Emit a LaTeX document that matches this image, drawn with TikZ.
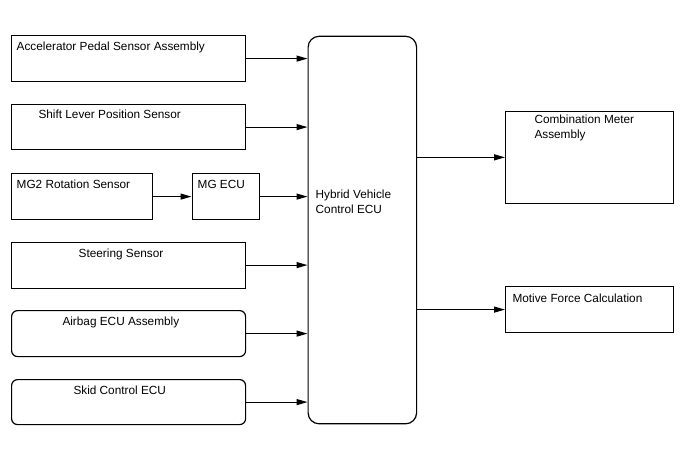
\documentclass[tikz,border=0pt]{standalone}
\usepackage{fontspec}
\setmainfont{Liberation Sans}
\usetikzlibrary{arrows.meta}
\begin{document}
\begin{tikzpicture}[x=1pt,y=-1pt,
  box/.style={draw,line width=1.2pt,rectangle,inner sep=0pt,anchor=north west},
  rbox/.style={box,rounded corners=6pt},
  txt/.style={anchor=base west,inner sep=0pt,font=\fontsize{11.8}{14.6}\selectfont},
  arr/.style={line width=1.2pt,-{Triangle[length=11pt,width=6pt]}}]
\useasboundingbox (0,0) rectangle (688,463);
% boxes
\node[box,minimum width=234pt,minimum height=46pt] (acc) at (11,35) {};
\node[box,minimum width=234pt,minimum height=45pt] (shift) at (11,104) {};
\node[box,minimum width=141pt,minimum height=46pt] (mg2) at (11,173) {};
\node[box,minimum width=67pt,minimum height=46pt] (mgecu) at (191.5,173) {};
\node[box,minimum width=234pt,minimum height=46pt] (steer) at (11,241.5) {};
\node[rbox,minimum width=234pt,minimum height=46pt] (airbag) at (11,310) {};
\node[rbox,minimum width=234pt,minimum height=45pt] (skid) at (11,379) {};
\node[box,rounded corners=11pt,minimum width=108.5pt,minimum height=387.5pt] (hv) at (307.5,35.7) {};
\node[box,minimum width=167.5pt,minimum height=91.5pt] (comb) at (505,111) {};
\node[box,minimum width=167.5pt,minimum height=46pt] (motive) at (505,286) {};
% texts
\node[txt] (tacc) at (16.5,50) {Accelerator Pedal Sensor Assembly};
\node[txt] (tshift) at (38.3,118.3) {Shift Lever Position Sensor};
\node[txt] (tmg2) at (16.5,188.3) {MG2 Rotation Sensor};
\node[txt] (tmgecu) at (197.5,188.3) {MG ECU};
\node[txt] (tsteer) at (78.5,257) {Steering Sensor};
\node[txt] (tairbag) at (62.3,325) {Airbag ECU Assembly};
\node[txt] (tskid) at (73.3,394) {Skid Control ECU};
\node[txt,align=left,anchor=north west] (thv) at (315.5,190) {Hybrid Vehicle\\Control ECU};
\node[txt,align=left,anchor=north west] (tcomb) at (534.3,114.7) {Combination Meter\\Assembly};
\node[txt] (tmotive) at (512.3,302) {Motive Force Calculation};
% connectors
\draw[arr] (acc.east) -- (acc.east -| hv.west);
\draw[arr] (shift.east) -- (shift.east -| hv.west);
\draw[arr] (mg2.east) -- (mgecu.west);
\draw[arr] (mgecu.east) -- (mgecu.east -| hv.west);
\draw[arr] (steer.east) -- (steer.east -| hv.west);
\draw[arr] (airbag.east) -- (airbag.east -| hv.west);
\draw[arr] (skid.east) -- (skid.east -| hv.west);
\draw[arr] (comb.west -| hv.east) -- (comb.west);
\draw[arr] (motive.west -| hv.east) -- (motive.west);
\end{tikzpicture}
\end{document}
